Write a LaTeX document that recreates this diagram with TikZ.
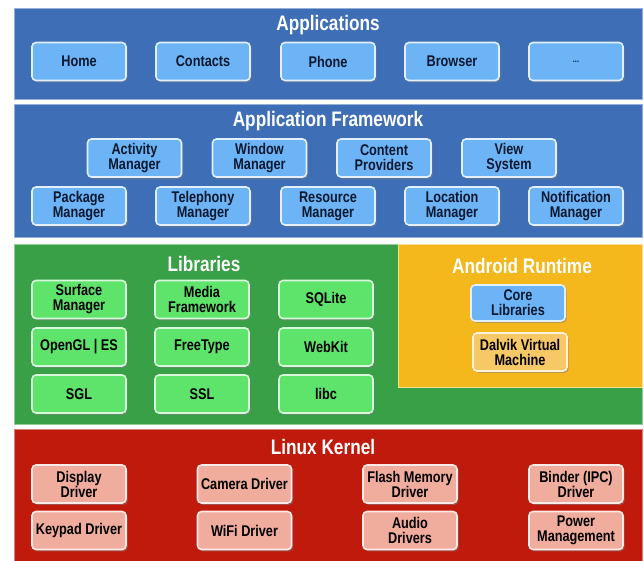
\documentclass[tikz,border=0pt]{standalone}
\usepackage{fontspec}
\setmainfont{Liberation Sans}[FakeStretch=0.82]
\usetikzlibrary{shadows}

\definecolor{bandblue}{RGB}{62,110,182}
\definecolor{boxblue}{RGB}{108,180,246}
\definecolor{libgreen}{RGB}{58,160,72}
\definecolor{boxgreen}{RGB}{94,228,106}
\definecolor{rtyellow}{RGB}{244,184,28}
\definecolor{boxorange}{RGB}{246,200,102}
\definecolor{kernred}{RGB}{192,26,12}
\definecolor{boxpink}{RGB}{240,172,156}
\definecolor{inkblue}{RGB}{12,24,48}

\tikzstyle{band}=[line width=1pt]
\tikzstyle{title}=[text=white,font=\bfseries\fontsize{21}{23}\selectfont]
\tikzstyle{part}=[rounded corners=4pt,line width=1.6pt,minimum width=94pt,minimum height=38pt,
  inner sep=1pt,align=center,font=\bfseries\fontsize{15.5}{15}\selectfont,
  drop shadow={shadow xshift=1.6pt,shadow yshift=-1.8pt,opacity=0.55}]
\tikzstyle{app}=[part,fill=boxblue,draw=white!80!boxblue,text=inkblue]
\tikzstyle{lib}=[part,fill=boxgreen,draw=white!75!boxgreen,text=black]
\tikzstyle{dvm}=[part,fill=boxorange,draw=white!75!boxorange,text=black]
\tikzstyle{drv}=[part,fill=boxpink,draw=white!75!boxpink,text=black]

\begin{document}
\begin{tikzpicture}[x=1pt,y=-1pt]
    \useasboundingbox (0,0) rectangle (644,560);
    \fill[white] (0,0) rectangle (644,560);
    % Layers
    \draw[band,fill=bandblue,draw=bandblue!55!white] (14,8) rectangle (642,99);
    \draw[band,fill=bandblue,draw=bandblue!55!white] (14,104) rectangle (642,237);
    \draw[band,fill=libgreen,draw=libgreen!55!white] (14,244) rectangle (642,424);
    \draw[band,fill=rtyellow,draw=rtyellow!45!white] (398,244) rectangle (642,387);
    \draw[band,fill=kernred,draw=kernred!55!white] (14,429) rectangle (642,566);
    % Layer titles
    \node[title] (apps) at (328,25) {Applications};
    \node[title] (framework) at (328,121) {Application Framework};
    \node[title] (libs) at (204,264) {Libraries};
    \node[title] (runtime) at (522,266) {Android Runtime};
    \node[title] (kernel) at (323,447) {Linux Kernel};
    % Applications
    \foreach \x/\name/\txt in {79/home/Home, 203/contacts/Contacts, 328/phone/Phone, 452/browser/Browser}
        \node[app] (\name) at (\x,61.5) {\txt};
    \node[app,font=\bfseries\fontsize{9}{10}\selectfont] (more) at (576,61.5) {...};
    % Application framework
    \foreach \x/\name/\txt in {134.5/activity/Activity\\Manager, 259.5/window/Window\\Manager,
            384/content/Content\\Providers, 509/view/View\\System}
        \node[app] (\name) at (\x,158) {\txt};
    \foreach \x/\name/\txt in {79/package/Package\\Manager, 203/telephony/Telephony\\Manager,
            328/resource/Resource\\Manager, 452/location/Location\\Manager, 576/notification/Notification\\Manager}
        \node[app] (\name) at (\x,206) {\txt};
    % Libraries
    \foreach \x/\y/\name/\txt in {79/299.5/surface/Surface\\Manager, 202/299.5/media/Media\\Framework, 326/299.5/sqlite/SQLite,
            79/347/opengl/OpenGL | ES, 202/347/freetype/FreeType, 326/347/webkit/WebKit,
            79/394/sgl/SGL, 202/394/ssl/SSL, 326/394/libc/libc}
        \node[lib] (\name) at (\x,\y) {\txt};
    % Android runtime
    \node[app,minimum height=36pt] (core) at (518,303) {Core\\Libraries};
    \node[dvm] (dalvik) at (520,352) {Dalvik Virtual\\Machine};
    % Linux kernel
    \foreach \x/\y/\name/\txt in {79/484/display/Display\\Driver, 244.5/484/camera/Camera Driver,
            410/484/flash/Flash Memory\\Driver, 576/484/binder/Binder (IPC)\\Driver,
            79/530.5/keypad/Keypad Driver, 244.5/530.5/wifi/WiFi Driver,
            410/530.5/audio/Audio\\Drivers, 576/530.5/power/Power\\Management}
        \node[drv] (\name) at (\x,\y) {\txt};
\end{tikzpicture}
\end{document}
